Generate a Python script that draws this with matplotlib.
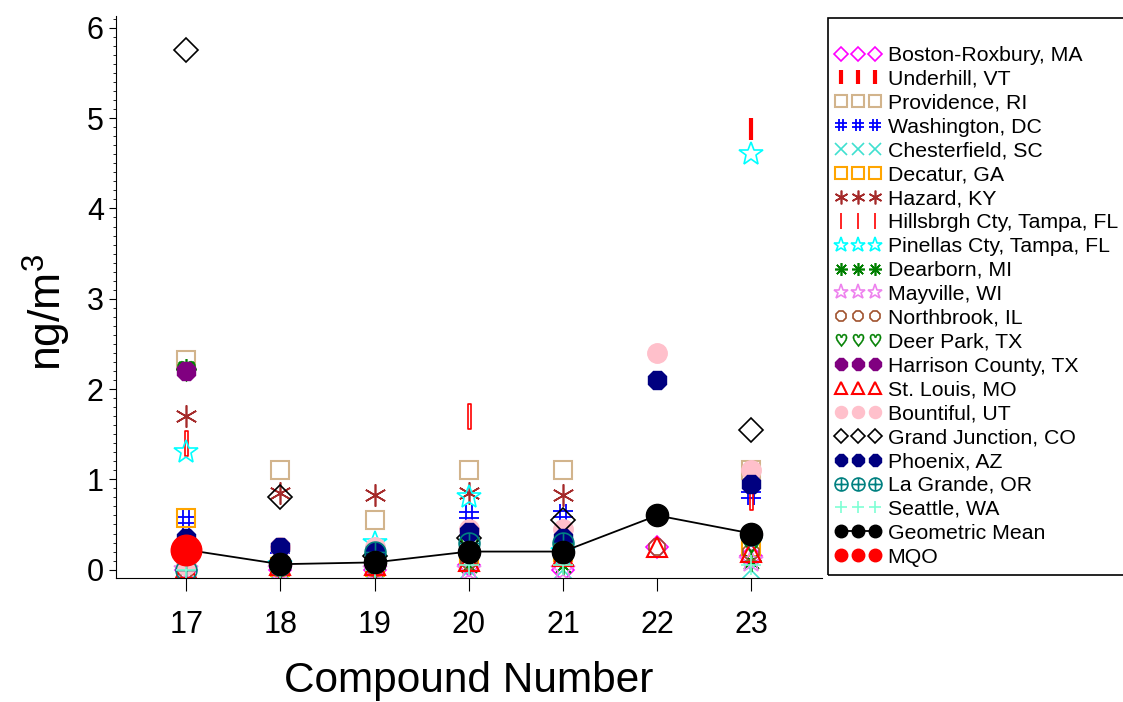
import matplotlib

matplotlib.use("Agg")

import matplotlib.pyplot as plt
import numpy as np
from matplotlib.lines import Line2D
from matplotlib.patches import Rectangle
from matplotlib.path import Path
from matplotlib.ticker import AutoMinorLocator

plt.rcParams["font.family"] = ["Liberation Sans", "DejaVu Sans"]
plt.rcParams["mathtext.default"] = "regular"

nan = np.nan

# =====================================================
# DATA
# =====================================================

compounds = [17, 18, 19, 20, 21, 22, 23]

site_names = [
    "Boston-Roxbury, MA",
    "Underhill, VT",
    "Providence, RI",
    "Washington, DC",
    "Chesterfield, SC",
    "Decatur, GA",
    "Hazard, KY",
    "Hillsbrgh Cty, Tampa, FL",
    "Pinellas Cty, Tampa, FL",
    "Dearborn, MI",
    "Mayville, WI",
    "Northbrook, IL",
    "Deer Park, TX",
    "Harrison County, TX",
    "St. Louis, MO",
    "Bountiful, UT",
    "Grand Junction, CO",
    "Phoenix, AZ",
    "La Grande, OR",
    "Seattle, WA",
]

boston = [0.0, 0.0, 0.0, 0.05, 0.0, 0.25, 0.15]
underhill = [0.02, 0.02, 0.1, 0.1, 0.3, nan, 4.88]
providence = [2.32, 1.1, 0.55, 1.1, 1.1, nan, 1.1]
washington = [0.55, 0.22, 0.22, 0.6, 0.62, nan, 0.83]
chesterfield = [0.0, 0.0, 0.0, 0.0, 0.0, nan, 0.0]
decatur = [0.57, 0.03, 0.03, 0.1, 0.2, nan, 0.25]
hazard = [1.7, 0.85, 0.83, 0.85, 0.83, nan, nan]
hillsbrgh = [1.4, 0.02, 0.05, 1.7, 0.3, nan, 0.8]
pinellas = [1.3, 0.05, 0.3, 0.8, 0.2, nan, 4.6]
dearborn = [2.22, 0.02, 0.02, 0.05, 0.05, nan, 0.1]
mayville = [0.0, 0.0, 0.0, 0.0, 0.0, nan, 0.1]
northbrook = [0.0, 0.02, 0.02, 0.1, 0.15, 0.25, 0.2]
deer_park = [2.2, 0.05, 0.05, 0.3, 0.25, nan, 0.3]
harrison = [2.2, nan, nan, nan, nan, nan, nan]
st_louis = [0.02, 0.05, 0.05, 0.1, 0.15, 0.25, 0.2]
bountiful = [0.05, 0.25, 0.25, 0.45, 0.45, 2.4, 1.1]
grand_junction = [5.75, 0.8, 0.15, 0.35, 0.55, nan, 1.55]
phoenix = [0.35, 0.25, 0.2, 0.42, 0.35, 2.1, 0.95]
la_grande = [0.0, 0.05, 0.2, 0.3, 0.3, nan, 0.38]
seattle = [0.0, 0.0, 0.0, 0.05, 0.05, nan, 0.05]

geometric_mean = [0.22, 0.06, 0.08, 0.2, 0.2, 0.6, 0.4]
mqo = [0.22, nan, nan, nan, nan, nan, nan]

site_values = [
    boston, underhill, providence, washington, chesterfield, decatur,
    hazard, hillsbrgh, pinellas, dearborn, mayville, northbrook,
    deer_park, harrison, st_louis, bountiful, grand_junction, phoenix,
    la_grande, seattle,
]

# =====================================================
# CUSTOM MARKERS
# =====================================================

# thin "#" built from four strokes
hash_marker = Path(
    [(-0.35, -1), (-0.35, 1), (0.35, -1), (0.35, 1),
     (-1, -0.35), (1, -0.35), (-1, 0.35), (1, 0.35)],
    [Path.MOVETO, Path.LINETO] * 4,
)

# narrow outlined bar
bar_marker = Path(
    [(-0.12, -1), (0.12, -1), (0.12, 1), (-0.12, 1), (-0.12, -1)],
    [Path.MOVETO, Path.LINETO, Path.LINETO, Path.LINETO, Path.CLOSEPOLY],
)

# circle with a cross
oplus_marker = Path.make_compound_path(
    Path.unit_circle(),
    Path([(-1, 0), (1, 0), (0, -1), (0, 1)],
         [Path.MOVETO, Path.LINETO, Path.MOVETO, Path.LINETO]),
)

# =====================================================
# STYLES  (marker, colour, filled, size, edge width)
# =====================================================

styles = [
    ("D", "#FF00FF", False, 11, 1.2),
    ("|", "#FF0000", False, 16, 3.0),
    ("s", "#D2B48C", False, 13, 1.5),
    (hash_marker, "#0000FF", False, 14, 1.3),
    ("x", "#40E0D0", False, 13, 1.2),
    ("s", "#FFA500", False, 13, 1.5),
    ((6, 2, 0), "#A52A2A", False, 16, 1.2),
    (bar_marker, "#FF0000", False, 18, 1.2),
    ("*", "#00FFFF", False, 18, 1.2),
    ((8, 2, 0), "#008000", False, 15, 1.2),
    ("*", "#EE82EE", False, 18, 1.2),
    ("8", "#A0522D", False, 13, 1.2),
    (r"$\heartsuit$", "#008000", True, 15, 0.3),
    ("8", "#800080", True, 14, 1.0),
    ("^", "#FF0000", False, 14, 1.5),
    ("o", "#FFC0CB", True, 14, 1.0),
    ("D", "#000000", False, 12, 1.2),
    ("8", "#000080", True, 14, 1.0),
    (oplus_marker, "#008080", False, 15, 1.2),
    ("+", "#7FFFD4", False, 14, 1.2),
]

# =====================================================
# FIGURE
# =====================================================

fig = plt.figure(figsize=(11.23, 7.02), dpi=100)
ax = fig.add_axes([0.103, 0.177, 0.629, 0.800])

handles = []

for name, values, (marker, color, filled, size, width) in zip(site_names, site_values, styles):
    face = color if filled else "none"
    ax.plot(
        compounds,
        values,
        linestyle="none",
        marker=marker,
        markersize=size,
        markerfacecolor=face,
        markeredgecolor=color,
        markeredgewidth=width,
    )
    # the legend shows the Hillsborough bar as a plain thin stroke
    legend_marker = "|" if marker is bar_marker else marker
    handles.append(
        Line2D(
            [], [],
            linestyle="none",
            marker=legend_marker,
            markersize=size * 0.62,
            markerfacecolor=face,
            markeredgecolor=color,
            markeredgewidth=width,
            label=name,
        )
    )

ax.plot(
    compounds,
    geometric_mean,
    color="black",
    linewidth=1.3,
    marker="o",
    markersize=16,
    markerfacecolor="black",
    markeredgecolor="black",
)
ax.plot(
    compounds,
    mqo,
    linestyle="none",
    marker="o",
    markersize=22,
    markerfacecolor="#FF0000",
    markeredgecolor="#FF0000",
)

handles.append(
    Line2D([], [], color="black", linewidth=1.3, marker="o", markersize=9,
           markerfacecolor="black", label="Geometric Mean")
)
handles.append(
    Line2D([], [], linestyle="none", marker="o", markersize=9,
           markerfacecolor="#FF0000", markeredgecolor="#FF0000", label="MQO")
)

# =====================================================
# AXES
# =====================================================

ax.set_xlim(16.25, 23.75)
ax.set_ylim(-0.09, 6.13)
ax.set_xticks(compounds)
ax.set_yticks([0, 1, 2, 3, 4, 5, 6])
ax.yaxis.set_minor_locator(AutoMinorLocator(10))

ax.spines["top"].set_visible(False)
ax.spines["right"].set_visible(False)

ax.tick_params(axis="both", which="major", labelsize=22, direction="out")
ax.tick_params(axis="x", which="major", length=9, pad=14)
ax.tick_params(axis="y", which="major", length=5)
ax.tick_params(axis="y", which="minor", length=2.5)

ax.set_xlabel("Compound Number", fontsize=30.5, labelpad=15)
ax.set_ylabel("ng/m$^3$", fontsize=32)
ax.yaxis.set_label_coords(-0.061, 0.473)

# =====================================================
# LEGEND
# =====================================================

fig.patches.append(
    Rectangle(
        (0.737, 0.181), 0.28, 0.793,
        transform=fig.transFigure,
        fill=False,
        edgecolor="black",
        linewidth=1.2,
    )
)

fig.legend(
    handles=handles,
    loc="upper left",
    bbox_to_anchor=(0.743, 0.9345),
    frameon=False,
    numpoints=3,
    fontsize=15.3,
    handlelength=2.2,
    handletextpad=0.3,
    labelspacing=0.23,
    borderaxespad=0.0,
    borderpad=0.0,
)

fig.savefig("out.png", dpi=100)
